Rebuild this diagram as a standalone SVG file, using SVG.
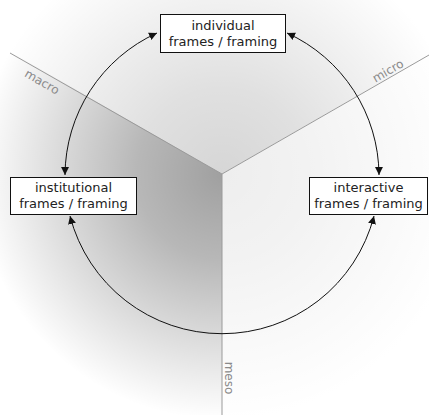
<svg xmlns="http://www.w3.org/2000/svg" width="429" height="415" viewBox="0 0 429 415">
  <style>
    .box rect { fill: #ffffff; stroke: #111111; stroke-width: 1; }
    .box text { font-family: "DejaVu Sans", "Liberation Sans", sans-serif; font-size: 13px; fill: #222222; text-anchor: middle; }
    .axis { stroke: #9a9a9a; stroke-width: 1; fill: none; }
    .axis-label { font-family: "DejaVu Sans", "Liberation Sans", sans-serif; font-size: 12px; fill: #8a8a8a; text-anchor: middle; }
    .link { fill: none; stroke: #111111; stroke-width: 1; marker-start: url(#head); marker-end: url(#head); }
  </style>
  <defs>
    <marker id="head" viewBox="0 0 10 10" refX="10" refY="5" markerWidth="8" markerHeight="8" markerUnits="userSpaceOnUse" orient="auto-start-reverse">
      <path d="M0,0 L10,5 L0,10 Z" fill="#111111"/>
    </marker>
    <radialGradient id="fade" gradientUnits="userSpaceOnUse" cx="222" cy="174" r="245">
      <stop offset="0" stop-color="#ffffff" stop-opacity="0"/>
      <stop offset="0.35" stop-color="#ffffff" stop-opacity="0.25"/>
      <stop offset="1" stop-color="#ffffff" stop-opacity="1"/>
    </radialGradient>
  </defs>

  <!-- three faces of the corner -->
  <g id="faces">
    <polygon points="222,174 0,45.8 0,0 429,0 429,54.5" fill="#d6d6d6"/>
    <polygon points="222,174 429,54.5 429,415 222,415" fill="#eeeeee"/>
    <polygon points="222,174 222,415 0,415 0,45.8" fill="#a0a0a0"/>
    <rect x="0" y="0" width="429" height="415" fill="url(#fade)"/>
  </g>

  <!-- scale axes -->
  <g id="axes">
    <line class="axis" x1="10" y1="53" x2="222" y2="174"/>
    <line class="axis" x1="222" y1="174" x2="429" y2="55"/>
    <line class="axis" x1="222" y1="174" x2="222" y2="415"/>
    <text class="axis-label" transform="translate(42,82) rotate(30)" dy="4">macro</text>
    <text class="axis-label" transform="translate(388,71) rotate(-30)" dy="4">micro</text>
    <text class="axis-label" transform="translate(229,378) rotate(90)" dy="4">meso</text>
  </g>

  <!-- cycle connectors -->
  <g id="connectors">
    <path class="link" d="M65,175 A157,157 0 0 1 157,33"/>
    <path class="link" d="M287,33 A157,157 0 0 1 379,175"/>
    <path class="link" d="M374,216 A157,157 0 0 1 70,216"/>
  </g>

  <g id="individual" class="box">
    <rect x="160.5" y="14.5" width="125" height="38"/>
    <text x="223" y="30">individual</text>
    <text x="223" y="46">frames / framing</text>
  </g>

  <g id="institutional" class="box">
    <rect x="10.5" y="177.5" width="126" height="37"/>
    <text x="73.5" y="192">institutional</text>
    <text x="73.5" y="208">frames / framing</text>
  </g>

  <g id="interactive" class="box">
    <rect x="309.5" y="177.5" width="118" height="37"/>
    <text x="368.5" y="192">interactive</text>
    <text x="368.5" y="208">frames / framing</text>
  </g>
</svg>
